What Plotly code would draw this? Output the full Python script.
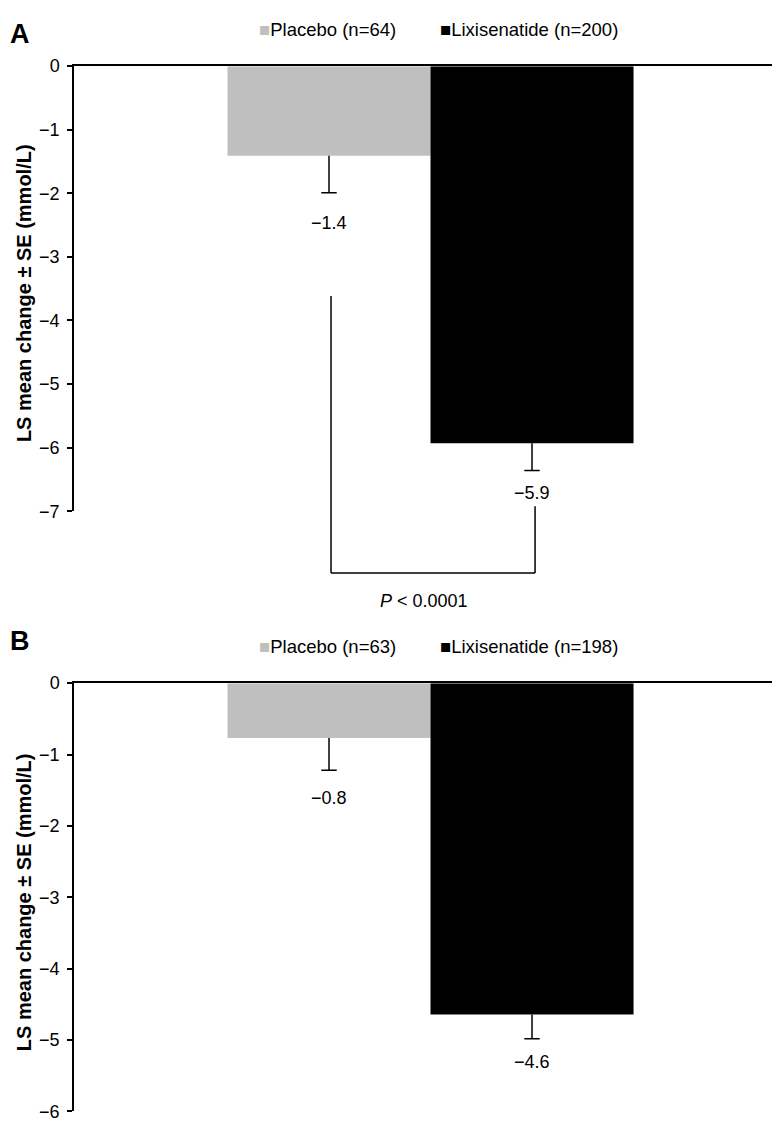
import plotly.graph_objects as go

# ---------------- data ----------------
categories = ["Placebo", "Lixisenatide"]
colors = ["#bfbfbf", "#000000"]
n_A = [64, 200]
n_B = [63, 198]
mean_A = [-1.41, -5.93]
se_A = [0.58, 0.43]
mean_B = [-0.77, -4.64]
se_B = [0.45, 0.34]
yticks_A = [0, -1, -2, -3, -4, -5, -6, -7]
yticks_B = [0, -1, -2, -3, -4, -5, -6]
p_label = "<i>P</i> &lt; 0.0001"
y_title = "LS mean change ± SE (mmol/L)"

# ---------------- layout geometry ----------------
W, H = 780, 1141
FONT = "Liberation Sans, Arial, Helvetica, sans-serif"
x_dom = [66 / W, 778 / W]
x_rng = [-1.256, 2.251]
yA_dom = [1 - 502 / H, 1 - 49 / H]
yB_dom = [1 - 1113 / H, 1 - 677 / H]

fig = go.Figure()

panels = [
    dict(xa="x", ya="y", mean=mean_A, se=se_A, n=n_A, label_shift=[-30, -22]),
    dict(xa="x2", ya="y2", mean=mean_B, se=se_B, n=n_B, label_shift=[-28, -23]),
]

xpos = list(range(len(categories)))

for p in panels:
    for i, cat in enumerate(categories):
        fig.add_trace(go.Bar(
            x=[xpos[i]], y=[p["mean"][i]], width=[1.0],
            marker=dict(color=colors[i], line=dict(width=0)),
            name=f"{cat} (n={p['n'][i]})",
            xaxis=p["xa"], yaxis=p["ya"], showlegend=False,
            hoverinfo="skip",
        ))
    # error bar stems (downward only)
    ex, ey = [], []
    for i in range(len(categories)):
        ex += [xpos[i], xpos[i], None]
        ey += [p["mean"][i], p["mean"][i] - p["se"][i], None]
    fig.add_trace(go.Scatter(
        x=ex, y=ey, mode="lines", line=dict(color="black", width=1.5),
        xaxis=p["xa"], yaxis=p["ya"], showlegend=False, hoverinfo="skip",
    ))
    # caps
    fig.add_trace(go.Scatter(
        x=xpos, y=[m - s for m, s in zip(p["mean"], p["se"])], mode="markers",
        marker=dict(symbol="line-ew", size=11, line=dict(color="black", width=1.5)),
        xaxis=p["xa"], yaxis=p["ya"], showlegend=False, hoverinfo="skip",
    ))

annotations = []
for p in panels:
    for i in range(len(categories)):
        v = p["mean"][i]
        annotations.append(dict(
            x=xpos[i], y=v - p["se"][i], xref=p["xa"], yref=p["ya"],
            text=("\u2212" if v < 0 else "") + f"{abs(v):.1f}",
            showarrow=False, yanchor="middle", yshift=p["label_shift"][i],
            font=dict(family=FONT, size=18, color="black"),
        ))

# legends (manual, one row above each panel)
legend_rows = [(1 - 12 / H, n_A), (1 - 640 / H, n_B)]
legend_x = [249 / W, 430 / W]
for ly, ns in legend_rows:
    for i, cat in enumerate(categories):
        annotations.append(dict(
            x=legend_x[i], y=ly, xref="paper", yref="paper",
            xanchor="left", yanchor="middle", showarrow=False,
            text=f"<span style='color:{colors[i]}'>\u25A0</span>{cat} (n={ns[i]})",
            font=dict(family=FONT, size=18.5, color="black"),
        ))

# panel letters
for letter, ly in [("A", 1 - 16 / H), ("B", 1 - 634 / H)]:
    annotations.append(dict(
        x=0, y=ly, xref="paper", yref="paper", xanchor="left", yanchor="middle",
        text=f"<b>{letter}</b>", showarrow=False,
        font=dict(family=FONT, size=27, color="black"),
    ))

# y-axis titles
for ycen in [1 - 280 / H, 1 - 900 / H]:
    annotations.append(dict(
        x=16 / W, y=ycen, xref="paper", yref="paper", xanchor="center", yanchor="middle",
        text=f"<b>{y_title}</b>", textangle=-90, showarrow=False,
        font=dict(family=FONT, size=20, color="black"),
    ))

# significance bracket (panel A)
bx0, bx1 = 0.01, 1.015
shapes = [
    dict(type="line", xref="x", yref="paper", x0=bx0, x1=bx0, y0=1 - 283 / H, y1=1 - 565 / H,
         line=dict(color="black", width=1.5)),
    dict(type="line", xref="x", yref="paper", x0=bx0, x1=bx1, y0=1 - 565 / H, y1=1 - 565 / H,
         line=dict(color="black", width=1.5)),
    dict(type="line", xref="x", yref="paper", x0=bx1, x1=bx1, y0=1 - 497 / H, y1=1 - 565 / H,
         line=dict(color="black", width=1.5)),
]
annotations.append(dict(
    x=0.47, y=1 - 593 / H, xref="x", yref="paper", showarrow=False,
    text=p_label, yanchor="middle", font=dict(family=FONT, size=18, color="black"),
))

xaxis_common = dict(domain=x_dom, range=x_rng, showline=True, linecolor="black", linewidth=1.5,
                    side="top", showticklabels=False, ticks="", showgrid=False, zeroline=False,
                    fixedrange=True)
yaxis_common = dict(ticks="outside", ticklen=5, tickwidth=1.5, tickcolor="black",
                    showline=True, linecolor="black", linewidth=1.5, showgrid=False,
                    zeroline=False, tickfont=dict(family=FONT, size=18, color="black"),
                    ticklabelstandoff=4, fixedrange=True)

fig.update_layout(
    width=W, height=H,
    margin=dict(l=0, r=0, t=0, b=0),
    paper_bgcolor="white", plot_bgcolor="white",
    barmode="overlay",
    showlegend=False,
    font=dict(family=FONT, size=18, color="black"),
    xaxis=dict(anchor="y", **xaxis_common),
    yaxis=dict(anchor="x", domain=yA_dom, range=[min(yticks_A), 0], tickvals=yticks_A, **yaxis_common),
    xaxis2=dict(anchor="y2", **xaxis_common),
    yaxis2=dict(anchor="x2", domain=yB_dom, range=[min(yticks_B), 0], tickvals=yticks_B, **yaxis_common),
    annotations=annotations,
    shapes=shapes,
)

fig.write_html("out.html")
